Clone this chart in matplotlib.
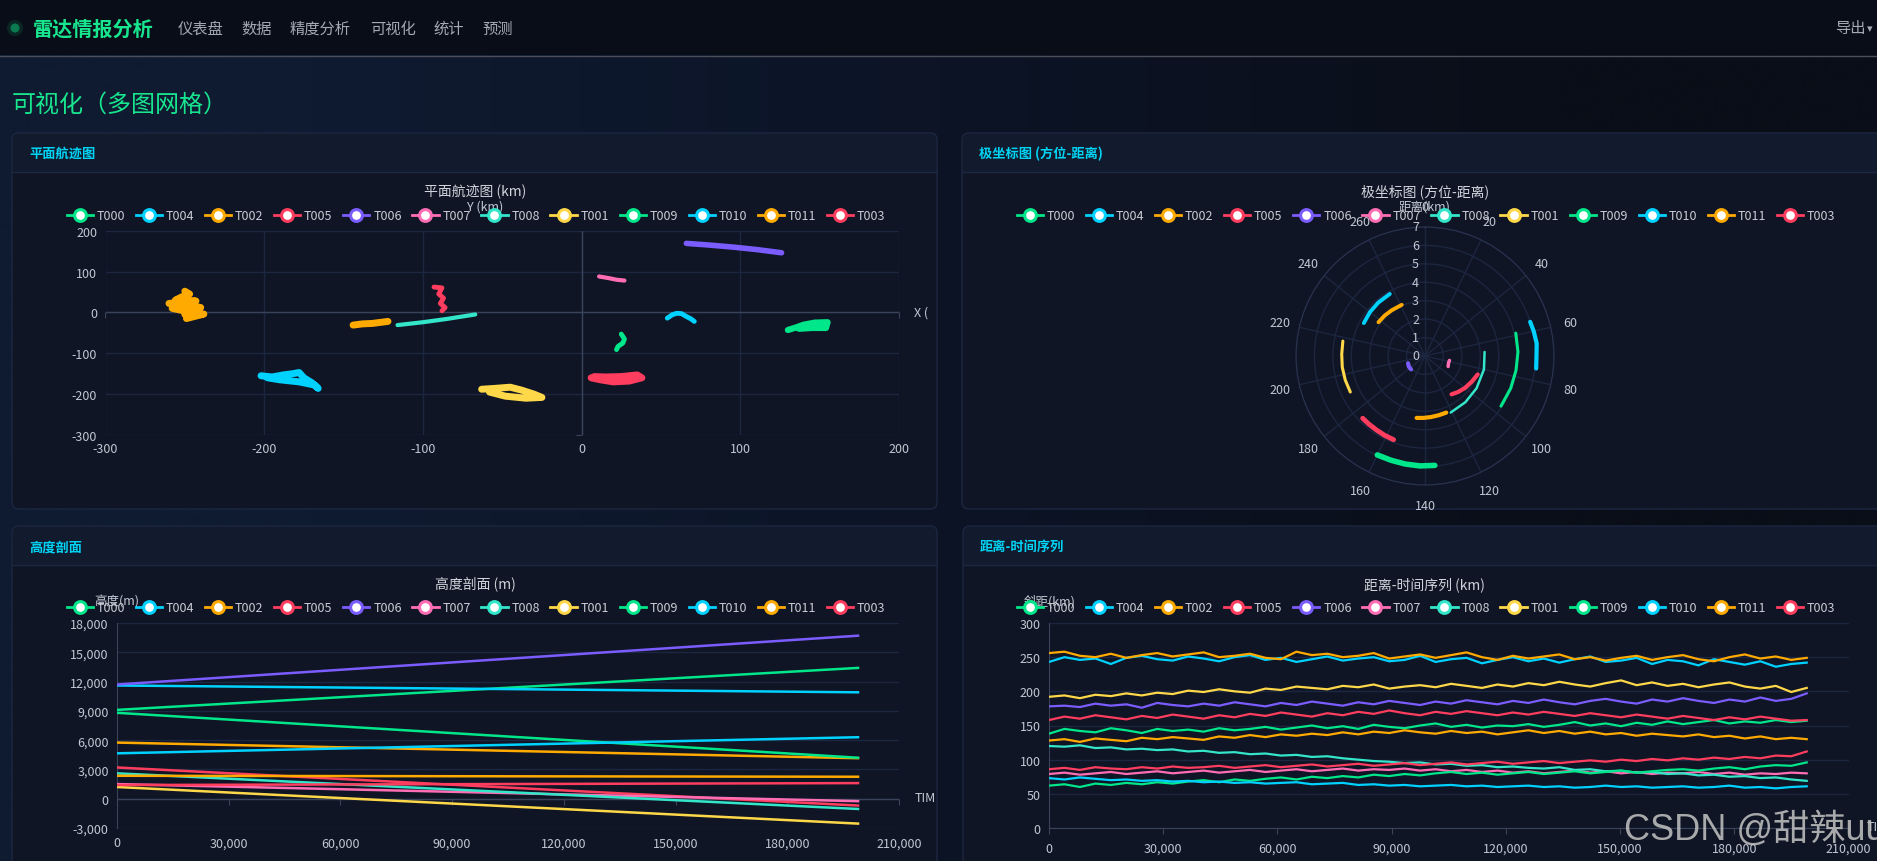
import numpy as np
import matplotlib.pyplot as plt
import matplotlib.colors as mcolors
import matplotlib.transforms as mtransforms
from matplotlib.patches import FancyBboxPatch, Rectangle, Circle
from matplotlib.lines import Line2D
from matplotlib.ticker import FuncFormatter

plt.rcParams['font.family'] = ['Noto Sans CJK SC', 'DejaVu Sans']
plt.rcParams['axes.unicode_minus'] = False

W, H = 1877, 862

targets = ['T000', 'T004', 'T002', 'T005', 'T006', 'T007',
           'T008', 'T001', 'T009', 'T010', 'T011', 'T003']
colors = ['#00e68a', '#00d2ff', '#ffaa00', '#ff3d5f', '#7b5cff', '#ff6eb4',
          '#33e6c9', '#ffd84a', '#00e68a', '#00d2ff', '#ffaa00', '#ff3d5f']

# 平面航迹 (km)
plane_x = {
    'T000': [25, 27, 26, 23, 22],
    'T004': [-202, -195, -188, -182, -178, -175, -170, -166, -168, -178, -190, -198],
    'T002': [-250, -247, -252, -256, -243, -260, -248, -240, -258, -252, -245, -250, -238, -249],
    'T005': [-93, -88, -90, -87, -89, -86, -88],
    'T006': [66, 80, 95, 110, 126],
    'T007': [11, 17, 22, 27],
    'T008': [-116, -100, -85, -67],
    'T001': [-63, -55, -45, -38, -30, -25, -35, -48, -58],
    'T009': [130, 135, 140, 147, 155, 154, 145, 137],
    'T010': [54, 57, 60, 63, 66, 69, 71],
    'T011': [-144, -138, -132, -126, -122],
    'T003': [6, 12, 20, 30, 38, 35, 25, 15, 8],
}
plane_y = {
    'T000': [-53, -65, -75, -83, -91],
    'T004': [-155, -158, -153, -150, -147, -160, -172, -186, -178, -170, -165, -160],
    'T002': [52, 45, 38, 30, 28, 22, 18, 12, 10, 5, 0, -5, -4, -15],
    'T005': [62, 60, 45, 35, 22, 12, 4],
    'T006': [169, 165, 160, 154, 146],
    'T007': [88, 84, 80, 78],
    'T008': [-31, -24, -16, -5],
    'T001': [-188, -186, -183, -190, -200, -208, -210, -205, -195],
    'T009': [-43, -37, -30, -25, -24, -38, -38, -40],
    'T010': [-14, -6, -2, -3, -10, -16, -22],
    'T011': [-31, -28, -27, -24, -22],
    'T003': [-160, -165, -170, -168, -160, -153, -157, -158, -157],
}
plane_lw = {'T000': 3.5, 'T004': 5, 'T002': 5, 'T005': 3.5, 'T006': 4, 'T007': 3,
            'T008': 3, 'T001': 5, 'T009': 4.5, 'T010': 3.5, 'T011': 5, 'T003': 5}

# 极坐标: 方位 (刻度 0-280) / 距离
polar_az = {
    'T000': [59, 68, 77, 86, 96],
    'T004': [232, 240, 248, 257],
    'T002': [238, 245, 252, 261],
    'T005': [85, 92, 100, 107, 113],
    'T006': [176, 184, 192],
    'T007': [78, 83, 89],
    'T008': [67, 80, 95, 108, 121],
    'T001': [190, 197, 204, 211, 218],
    'T009': [136, 142, 148, 154, 160],
    'T010': [56, 60, 65, 70, 75],
    'T011': [124, 130, 136, 141, 146],
    'T003': [156, 161, 166, 171, 175],
}
polar_r = {
    'T000': [5.08, 5.05, 5.0, 4.97, 4.94],
    'T004': [3.77, 3.82, 3.85, 3.87],
    'T002': [3.12, 3.1, 3.07, 3.05],
    'T005': [3.03, 2.9, 2.78, 2.65, 2.53],
    'T006': [1.05, 1.05, 1.0],
    'T007': [1.35, 1.33, 1.38],
    'T008': [3.24, 3.28, 3.3, 3.33, 3.37],
    'T001': [4.5, 4.52, 4.53, 4.52, 4.53],
    'T009': [5.96, 5.97, 5.96, 5.95, 5.96],
    'T010': [6.0, 6.05, 6.1, 6.05, 6.07],
    'T011': [3.28, 3.3, 3.33, 3.36, 3.39],
    'T003': [4.85, 4.83, 4.8, 4.79, 4.78],
}
polar_lw = {'T000': 2.2, 'T004': 2.8, 'T002': 2.8, 'T005': 3, 'T006': 3, 'T007': 2.5,
            'T008': 1.8, 'T001': 2.2, 'T009': 4, 'T010': 3, 'T011': 3, 'T003': 3.5}

# 高度剖面 (m)
alt_time = [0, 199000]
alt_start = {'T000': 9100, 'T004': 11600, 'T002': 5750, 'T005': 3200, 'T006': 11700,
             'T007': 1500, 'T008': 2600, 'T001': 1200, 'T009': 8800, 'T010': 4650,
             'T011': 2350, 'T003': 1400}
alt_end = {'T000': 13400, 'T004': 10900, 'T002': 4150, 'T005': -700, 'T006': 16700,
           'T007': -250, 'T008': -1050, 'T001': -2550, 'T009': 4200, 'T010': 6300,
           'T011': 2250, 'T003': 1600}

# 距离-时间序列 (km)
range_tmax = 199000
range_vals = {
    'T002': [256, 258, 252, 250, 255, 249, 253, 256, 251, 254, 257, 250, 252, 255, 249, 247, 258,
             253, 255, 250, 252, 256, 248, 251, 254, 249, 253, 257, 250, 246, 252, 248, 251, 254,
             247, 250, 245, 249, 252, 246, 250, 253, 247, 244, 250, 254, 248, 251, 246, 249],
    'T004': [243, 250, 246, 248, 240, 249, 252, 247, 245, 251, 248, 244, 250, 253, 246, 249, 243,
             247, 251, 245, 248, 250, 244, 246, 252, 243, 247, 249, 241, 246, 250, 244, 248, 242,
             247, 251, 243, 245, 249, 240, 246, 244, 238, 247, 243, 239, 244, 236, 240, 242],
    'T001': [192, 194, 190, 195, 193, 197, 194, 198, 196, 201, 199, 203, 200, 198, 204, 202, 207,
             205, 203, 208, 206, 210, 204, 207, 209, 206, 211, 208, 205, 210, 207, 212, 209, 214,
             210, 207, 212, 216, 209, 213, 208, 211, 206, 210, 213, 207, 204, 208, 199, 205],
    'T006': [178, 179, 177, 182, 179, 181, 176, 183, 180, 178, 182, 179, 184, 181, 178, 183, 180,
             185, 182, 179, 184, 181, 186, 183, 180, 185, 182, 187, 184, 181, 186, 183, 188, 184,
             181, 186, 189, 185, 182, 188, 185, 190, 186, 183, 188, 185, 191, 186, 189, 197],
    'T005': [158, 163, 160, 165, 162, 159, 164, 161, 166, 163, 160, 165, 162, 167, 164, 169, 166,
             163, 168, 165, 170, 167, 172, 168, 165, 170, 167, 171, 168, 165, 169, 166, 170, 167,
             164, 168, 165, 162, 166, 163, 160, 164, 161, 158, 162, 159, 163, 160, 157, 158],
    'T000': [138, 145, 142, 140, 146, 143, 139, 145, 142, 144, 141, 146, 143, 145, 148, 144, 147,
             150, 146, 149, 145, 151, 148, 146, 150, 153, 148, 151, 147, 150, 149, 152, 148, 151,
             155, 150, 153, 149, 154, 151, 156, 152, 155, 158, 153, 156, 154, 158, 155, 157],
    'T011': [128, 130, 126, 131, 129, 127, 132, 130, 133, 131, 129, 134, 132, 136, 133, 137, 135,
             138, 136, 140, 137, 141, 139, 143, 140, 138, 142, 139, 141, 137, 140, 143, 139, 142,
             138, 141, 137, 139, 135, 138, 136, 134, 137, 133, 135, 131, 134, 130, 132, 130],
    'T008': [120, 119, 121, 117, 118, 115, 116, 114, 115, 112, 113, 110, 111, 108, 109, 106, 107,
             104, 105, 102, 100, 98, 97, 95, 96, 93, 94, 91, 92, 89, 90, 88, 87, 89, 85, 86, 83,
             84, 81, 82, 79, 80, 77, 78, 75, 76, 73, 74, 71, 69],
    'T003': [86, 88, 85, 89, 87, 86, 89, 87, 90, 88, 89, 91, 88, 90, 92, 89, 91, 93, 90, 92, 94,
             91, 93, 95, 92, 94, 96, 93, 95, 97, 94, 96, 98, 95, 97, 99, 97, 100, 98, 101, 99, 102,
             100, 103, 101, 104, 102, 106, 105, 112],
    'T007': [79, 81, 78, 80, 82, 79, 81, 83, 80, 82, 84, 81, 83, 85, 82, 84, 86, 83, 85, 87, 84,
             86, 85, 87, 84, 86, 83, 85, 82, 84, 81, 83, 80, 82, 84, 81, 83, 80, 82, 79, 81, 80,
             82, 79, 81, 78, 80, 79, 81, 80],
    'T009': [62, 64, 60, 65, 63, 66, 64, 67, 65, 68, 70, 67, 71, 69, 72, 74, 71, 75, 73, 76, 74,
             78, 76, 79, 77, 80, 82, 79, 81, 78, 80, 82, 79, 81, 83, 80, 82, 84, 81, 83, 85, 86,
             84, 87, 89, 86, 90, 92, 91, 96],
    'T010': [73, 71, 74, 72, 70, 71, 69, 70, 68, 69, 67, 68, 66, 67, 65, 66, 67, 64, 65, 66, 63,
             64, 62, 63, 61, 62, 63, 61, 62, 60, 61, 62, 60, 61, 59, 60, 62, 60, 61, 59, 60, 61,
             59, 60, 62, 59, 60, 58, 60, 61],
}

menu_items = ['仪表盘', '数据', '精度分析', '可视化', '统计', '预测']
menu_x = [178, 241, 290, 370, 433, 482]

GRID = '#1d2640'
AXIS = '#39435a'
TICK = '#c2c8d2'
TEXT = '#d0d4dc'


def box(x0, y0, x1, y1):
    return [x0 / W, 1 - y1 / H, (x1 - x0) / W, (y1 - y0) / H]


def comma(v, pos):
    return f'{int(v):,}'


fig = plt.figure(figsize=(W / 100, H / 100), dpi=100)
fig.patch.set_facecolor('#0a0e18')

bg = fig.add_axes([0, 0, 1, 1])
grad = np.array([[mcolors.to_rgb(c) for c in ['#0f1b31', '#0c1426', '#0a0e18']]])
bg.imshow(grad, extent=[0, W, H, 56], aspect='auto', interpolation='bilinear', zorder=0)
bg.set_xlim(0, W)
bg.set_ylim(H, 0)
bg.axis('off')

# 顶部导航
bg.add_patch(Rectangle((0, 0), W, 56, fc='#090d17', ec='none', zorder=1))
bg.plot([0, W], [56.5, 56.5], color='#4a4f5a', lw=1, zorder=2)
bg.add_patch(Circle((15, 29), 8, fc='#0c5a3e', ec='none', alpha=0.35, zorder=2))
bg.add_patch(Circle((15, 29), 4.5, fc='#0b7a50', ec='none', zorder=3))
bg.text(33, 29, '雷达情报分析', fontsize=14.5, fontweight='bold', color='#17e68f',
        va='center', ha='left', zorder=3)
for name, x in zip(menu_items, menu_x):
    bg.text(x, 29, name, fontsize=11, color='#a3a9b3', va='center', ha='left', zorder=3)
bg.text(1835, 28, '导出', fontsize=11, color='#a3a9b3', va='center', ha='left', zorder=3)
bg.text(1867, 29, '▾', fontsize=8, color='#a3a9b3', va='center', ha='left', zorder=3,
        family=['DejaVu Sans'])

bg.text(12, 105, '可视化（多图网格）', fontsize=17.3, color='#17e68f', va='center', ha='left', zorder=3)


def panel(x0, y0, x1, y1, title):
    bg.add_patch(FancyBboxPatch((x0, y0), x1 - x0, y1 - y0,
                                boxstyle='round,pad=0,rounding_size=7',
                                fc='#0f1524', ec='#1c2742', lw=1, zorder=2))
    bg.add_patch(FancyBboxPatch((x0 + 1, y0 + 1), x1 - x0 - 2, 38,
                                boxstyle='round,pad=0,rounding_size=6',
                                fc='#121a2e', ec='none', zorder=3))
    bg.add_patch(Rectangle((x0 + 1, y0 + 20), x1 - x0 - 2, 19, fc='#121a2e', ec='none', zorder=3))
    bg.plot([x0, x1], [y0 + 39, y0 + 39], color='#1c2742', lw=1, zorder=4)
    bg.text(x0 + 17, y0 + 20, title, fontsize=9.5, fontweight='bold', color='#00d4f5',
            va='center', ha='left', zorder=5)


panel(12, 134, 937, 510, '平面航迹图')
panel(962, 134, 1895, 510, '极坐标图 (方位-距离)')
panel(12, 527, 937, 905, '高度剖面')
panel(963, 527, 1895, 905, '距离-时间序列')

color_of = dict(zip(targets, colors))
handles = [Line2D([], [], color=c, lw=2, marker='o', ms=8.5, mfc='white', mec=c, mew=2.2)
           for c in colors]


def legend_at(cx, cy):
    fig.legend(handles, targets, loc='center', bbox_to_anchor=(cx / W, 1 - cy / H), ncol=12,
               frameon=False, fontsize=9, labelcolor='#c8ccd4', handlelength=2.1,
               handletextpad=0.3, columnspacing=0.85, borderpad=0, borderaxespad=0)


def chart_title(cx, cy, s):
    bg.text(cx, cy, s, fontsize=10, color=TEXT, ha='center', va='center', zorder=5)


def base_style(ax):
    ax.set_facecolor('none')
    for s in ax.spines.values():
        s.set_visible(False)
    ax.tick_params(colors=TICK, labelsize=9, length=0)
    for lab in ax.get_xticklabels() + ax.get_yticklabels():
        lab.set_color(TICK)


# ---- 平面航迹图 ----
chart_title(475, 192, '平面航迹图 (km)')
ax1 = fig.add_axes(box(105.5, 231.7, 899, 436))
ax1.set_xlim(-300, 200)
ax1.set_ylim(-300, 200)
ax1.set_xticks(np.arange(-300, 201, 100))
ax1.set_yticks(np.arange(-300, 201, 100))
ax1.grid(True, color=GRID, lw=1)
ax1.set_axisbelow(True)
base_style(ax1)
ax1.tick_params(axis='x', pad=5)
ax1.tick_params(axis='y', pad=6)
ax1.axhline(0, color=AXIS, lw=1, zorder=1)
ax1.axvline(0, color=AXIS, lw=1, zorder=1)
sx = ax1.secondary_xaxis(0.6)
sx.set_alignment('bottom')
sx.set_xticks(np.arange(-300, 201, 100))
sx.tick_params(labelbottom=False, labeltop=False, length=4, color=AXIS, direction='out')
for s in sx.spines.values():
    s.set_visible(False)
sy = ax1.secondary_yaxis(0.6)
sy.set_alignment('left')
sy.set_yticks(np.arange(-300, 201, 100))
sy.tick_params(labelleft=False, labelright=False, length=4, color=AXIS, direction='out')
for s in sy.spines.values():
    s.set_visible(False)
for t in targets:
    ax1.plot(plane_x[t], plane_y[t], color=color_of[t], lw=plane_lw[t],
             solid_joinstyle='round', solid_capstyle='round', zorder=3)
bg.text(485, 207, 'Y (km)', fontsize=9, color=TICK, ha='center', va='center', zorder=5)
bg.text(914, 313, 'X (', fontsize=9, color=TICK, ha='left', va='center', zorder=5)
legend_at(476, 217)

# ---- 极坐标图 ----
chart_title(1425, 192, '极坐标图 (方位-距离)')
axp = fig.add_axes(box(1296, 228, 1554, 486), projection='polar')
axp.set_facecolor('none')
axp.set_theta_zero_location('N')
axp.set_theta_direction(-1)
scale = 2 * np.pi / 280
az_ticks = np.arange(0, 280, 20)
axp.set_xticks(az_ticks * scale)
axp.set_xticklabels([str(a) for a in az_ticks])
axp.set_ylim(0, 7)
axp.set_yticks(np.arange(0, 8))
axp.set_yticklabels([])
axp.grid(True, color=GRID, lw=1)
axp.spines['polar'].set_color('#2a3350')
axp.tick_params(axis='x', colors=TICK, labelsize=9, pad=4)
for t in targets:
    axp.plot(np.array(polar_az[t]) * scale, polar_r[t], color=color_of[t], lw=polar_lw[t],
             solid_capstyle='round', zorder=3)
rtrans = mtransforms.offset_copy(axp.transData, fig=fig, x=-6, y=0, units='dots')
for r in range(0, 8):
    axp.text(0, r, str(r), transform=rtrans, ha='right', va='center', fontsize=9, color=TICK)
bg.text(1425, 207, '距离(km)', fontsize=9, color=TICK, ha='center', va='center', zorder=5)
legend_at(1426, 217)

# ---- 高度剖面 ----
chart_title(475, 585, '高度剖面 (m)')
ax3 = fig.add_axes(box(117, 624, 899, 829))
ax3.set_xlim(0, 210000)
ax3.set_ylim(-3000, 18000)
ax3.set_xticks(np.arange(0, 210001, 30000))
ax3.set_yticks(np.arange(-3000, 18001, 3000))
ax3.xaxis.set_major_formatter(FuncFormatter(comma))
ax3.yaxis.set_major_formatter(FuncFormatter(comma))
ax3.grid(True, axis='y', color=GRID, lw=1)
ax3.set_axisbelow(True)
base_style(ax3)
ax3.tick_params(axis='x', pad=6)
ax3.tick_params(axis='y', pad=6)
ax3.spines['left'].set_visible(True)
ax3.spines['left'].set_color(AXIS)
ax3.axhline(0, color=AXIS, lw=1, zorder=1)
s3 = ax3.secondary_xaxis(3000 / 21000)
s3.set_xticks(np.arange(0, 210001, 30000))
s3.tick_params(labelbottom=False, labeltop=False, length=4, color=AXIS, direction='out')
for s in s3.spines.values():
    s.set_visible(False)
for t in targets:
    ax3.plot(alt_time, [alt_start[t], alt_end[t]], color=color_of[t], lw=1.8, zorder=3)
bg.text(117, 602, '高度(m)', fontsize=9, color=TICK, ha='center', va='center', zorder=5)
bg.text(915, 799, 'TIM', fontsize=9, color=TICK, ha='left', va='center', zorder=5)
legend_at(476, 609)

# ---- 距离-时间序列 ----
chart_title(1424, 585, '距离-时间序列 (km)')
ax4 = fig.add_axes(box(1049, 624, 1848.6, 829))
ax4.set_xlim(0, 210000)
ax4.set_ylim(0, 300)
ax4.set_xticks(np.arange(0, 210001, 30000))
ax4.set_yticks(np.arange(0, 301, 50))
ax4.xaxis.set_major_formatter(FuncFormatter(comma))
ax4.grid(True, axis='y', color=GRID, lw=1)
ax4.set_axisbelow(True)
base_style(ax4)
ax4.tick_params(axis='x', pad=6, length=4, color=AXIS, direction='out')
ax4.tick_params(axis='y', pad=6)
ax4.spines['left'].set_visible(True)
ax4.spines['left'].set_color(AXIS)
ax4.spines['bottom'].set_visible(True)
ax4.spines['bottom'].set_color(AXIS)
for t in targets:
    vals = range_vals[t]
    tt = np.linspace(0, range_tmax, len(vals))
    ax4.plot(tt, vals, color=color_of[t], lw=1.6, zorder=3)
bg.text(1050, 602, '斜距(km)', fontsize=9, color=TICK, ha='center', va='center', zorder=5)
bg.text(1867, 828, 'TIM', fontsize=9, color=TICK, ha='left', va='center', zorder=5)
legend_at(1426, 609)

fig.text(1624 / W, 1 - 830 / H, 'CSDN @甜辣uu', fontsize=26, color='#c4c4c4', alpha=0.85,
         ha='left', va='center', family=['Liberation Sans', 'Noto Sans CJK SC'], zorder=10)

fig.savefig('out.png', dpi=100, facecolor=fig.get_facecolor())
